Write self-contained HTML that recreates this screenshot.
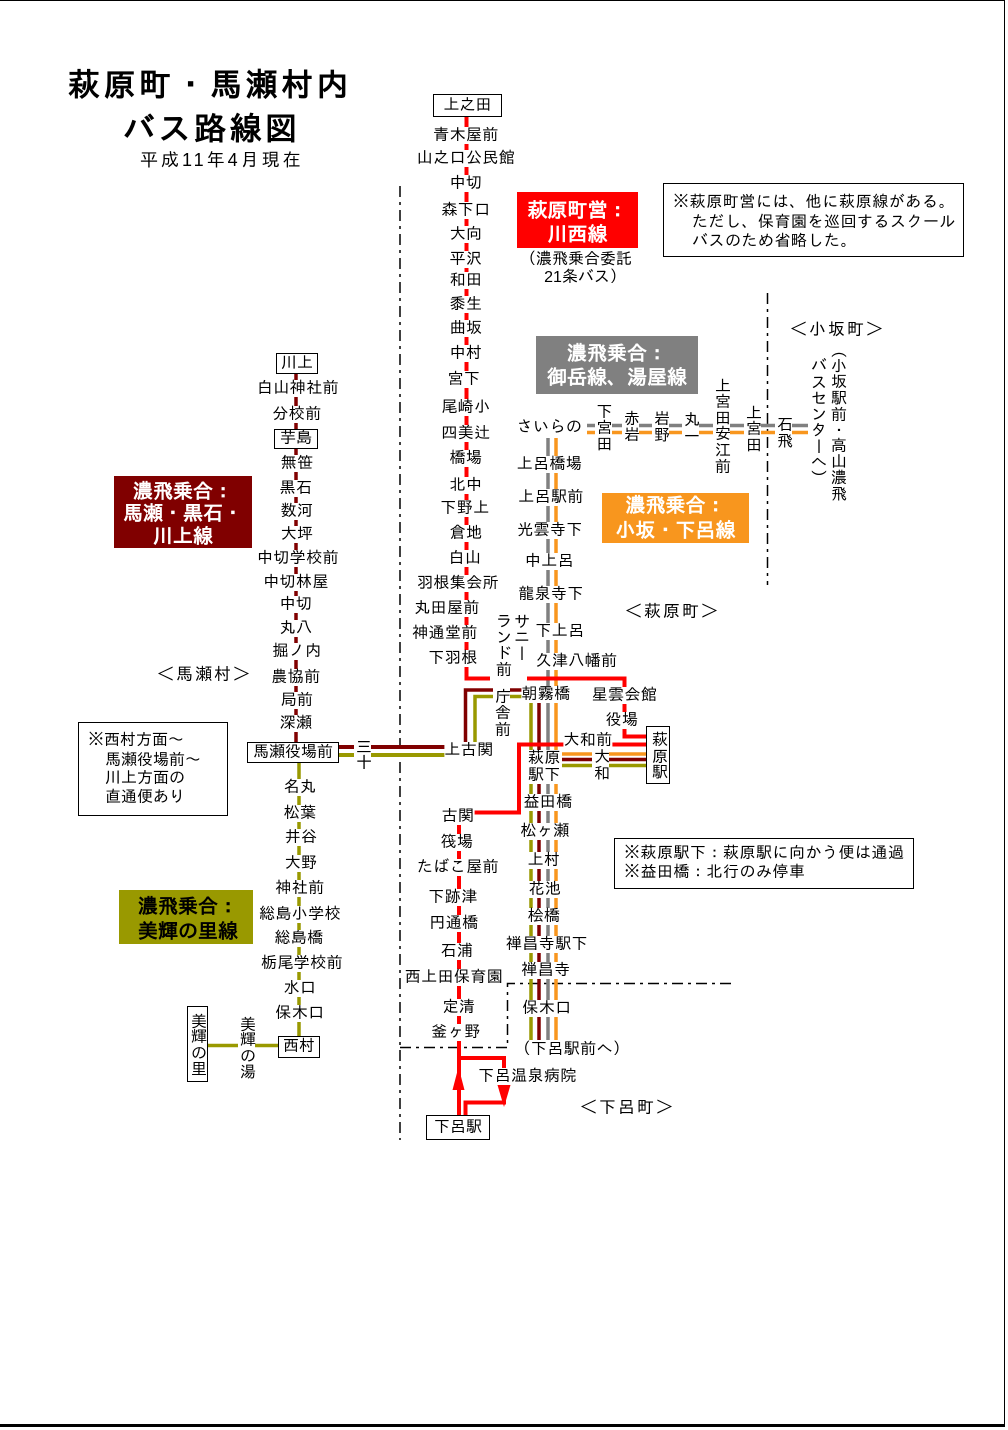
<!DOCTYPE html>
<html lang="ja"><head><meta charset="utf-8"><title>萩原町・馬瀬村内バス路線図</title>
<style>
html,body{margin:0;padding:0;background:#fff;}
body{width:1008px;height:1430px;position:relative;overflow:hidden;font-family:"Liberation Sans","IPAGothic","Noto Sans CJK JP",sans-serif;color:#000;}
svg{position:absolute;left:0;top:0;}
.s{position:absolute;font-size:16px;line-height:17px;height:17px;white-space:nowrap;background:#fff;transform:translateX(-50%);letter-spacing:.4px;}
.t{position:absolute;font-size:16px;line-height:17px;white-space:nowrap;}
.tc{position:absolute;font-size:16px;line-height:17px;white-space:nowrap;transform:translateX(-50%);}
.v{position:absolute;font-size:16px;line-height:17px;width:17px;writing-mode:vertical-rl;background:#fff;white-space:nowrap;}
.b{position:absolute;border:1px solid #000;background:#fff;box-sizing:border-box;font-size:16px;text-align:center;white-space:nowrap;}
.bv{position:absolute;border:1px solid #000;background:#fff;box-sizing:border-box;font-size:16px;text-align:center;white-space:nowrap;writing-mode:vertical-rl;}
.c{position:absolute;box-sizing:border-box;text-align:center;font-weight:bold;font-size:20px;white-space:nowrap;color:#fff;}
.n{position:absolute;border:1px solid #000;box-sizing:border-box;}
.m{position:absolute;font-size:17px;line-height:19px;letter-spacing:2px;white-space:nowrap;transform:translateX(-50%);}
</style></head><body>

<svg width="1008" height="1430" viewBox="0 0 1008 1430">
  <!-- page border -->
  <rect x="0" y="0" width="1005" height="1" fill="#000"/>
  <rect x="1004" y="0" width="1" height="1427" fill="#000"/>
  <rect x="0" y="1424" width="1005" height="3" fill="#000"/>

  <!-- municipal borders (dash-dot) -->
  <g stroke="#000" stroke-width="1.5" fill="none" stroke-dasharray="11 5 3 5">
    <path d="M400 186V1140"/>
    <path d="M767.5 293V585"/>
    <path d="M400 1047.5H507.5V983.5H735"/>
  </g>

  <g fill="none" stroke-linejoin="miter">
    <!-- gray / orange (御岳・湯屋 / 小坂・下呂) -->
    <path d="M587 425.5H808" stroke="#808080" stroke-width="3.5"/>
    <path d="M587 432.5H808" stroke="#f8961e" stroke-width="3.5"/>
    <path d="M548 1040V438" stroke="#808080" stroke-width="3.5"/>
    <path d="M556 1040V438" stroke="#f8961e" stroke-width="3.5"/>
    <!-- brown (馬瀬・黒石・川上) -->
    <path d="M296 374V742" stroke="#800000" stroke-width="3.5"/>
    <path d="M339 747H445" stroke="#800000" stroke-width="4"/>
    <path d="M465.5 742V690H539V1040" stroke="#800000" stroke-width="3.5"/>
    <path d="M562 759.5H646" stroke="#800000" stroke-width="3.5"/>
    <!-- olive (美輝の里) -->
    <path d="M299 763V1036" stroke="#999900" stroke-width="3.5"/>
    <path d="M339 755H445" stroke="#999900" stroke-width="4"/>
    <path d="M475 742V696.5H531V1040" stroke="#999900" stroke-width="3.5"/>
    <path d="M562 765.5H646" stroke="#999900" stroke-width="3.5"/>
    <path d="M278 1045.5H208" stroke="#999900" stroke-width="3.5"/>
    <!-- orange to 萩原駅 -->
    <path d="M562 754H646" stroke="#f8961e" stroke-width="3.5"/>
    <!-- red (川西線) -->
    <path d="M466.5 117V678.5H624.5V736.5H647" stroke="#ff0000" stroke-width="4"/>
    <path d="M647 744.5H519V812.5H459V1115" stroke="#ff0000" stroke-width="4"/>
    <path d="M459 1058H504V1070" stroke="#ff0000" stroke-width="4"/>
    <path d="M504 1082V1092" stroke="#ff0000" stroke-width="4"/>
    <path d="M465.5 1115V1102.5H506" stroke="#ff0000" stroke-width="4"/>
  </g>
  <polygon points="458.5,1067 452.5,1090 464.5,1090" fill="#ff0000"/>
  <polygon points="497.5,1085 510.5,1085 504,1107" fill="#ff0000"/>
  <!-- gap under サニーランド前 -->
  <rect x="490" y="675" width="37" height="8" fill="#fff"/>
</svg>

<!-- Title -->
<div style="position:absolute;left:68px;top:67px;font-size:32px;line-height:36px;font-weight:bold;letter-spacing:3.5px;white-space:nowrap">萩原町・馬瀬村内</div>
<div style="position:absolute;left:123px;top:110.5px;font-size:32px;line-height:36px;font-weight:bold;letter-spacing:3.5px;white-space:nowrap">バス路線図</div>
<div style="position:absolute;left:140px;top:150px;font-size:18px;line-height:20px;letter-spacing:3px;white-space:nowrap">平成11年4月現在</div>

<!-- Central red column -->
<div class="b" style="left:433px;top:94px;width:69px;height:23px;line-height:21px">上之田</div>
<div class="s" style="left:466px;top:126.5px">青木屋前</div>
<div class="s" style="left:466px;top:149.5px">山之口公民館</div>
<div class="s" style="left:466px;top:174.5px">中切</div>
<div class="s" style="left:466px;top:201.5px">森下口</div>
<div class="s" style="left:466px;top:225.5px">大向</div>
<div class="s" style="left:466px;top:250.5px">平沢</div>
<div class="s" style="left:466px;top:271.5px">和田</div>
<div class="s" style="left:466px;top:295.5px">黍生</div>
<div class="s" style="left:466px;top:319.5px">曲坂</div>
<div class="s" style="left:466px;top:344.5px">中村</div>
<div class="s" style="left:464px;top:370.5px">宮下</div>
<div class="s" style="left:466px;top:398.5px">尾崎小</div>
<div class="s" style="left:466px;top:424.5px">四美辻</div>
<div class="s" style="left:466px;top:449.5px">橋場</div>
<div class="s" style="left:466px;top:476.5px">北中</div>
<div class="s" style="left:465px;top:499.5px">下野上</div>
<div class="s" style="left:466px;top:524.5px">倉地</div>
<div class="s" style="left:465px;top:549.5px">白山</div>
<div class="s" style="left:458px;top:574.5px">羽根集会所</div>
<div class="s" style="left:447px;top:599.5px">丸田屋前</div>
<div class="s" style="left:445px;top:624.5px">神通堂前</div>
<div class="s" style="left:453px;top:649.5px">下羽根</div>

<!-- Red box -->
<div class="c" style="left:517px;top:192px;width:121px;height:56px;background:#ff0000;padding-top:7px;line-height:24px">萩原町営：<br>川西線</div>
<div class="tc" style="left:576px;top:250.5px">（濃飛乗合委託</div>
<div class="tc" style="left:585px;top:268.5px">21条バス）</div>

<!-- Note 1 -->
<div class="n" style="left:663px;top:183px;width:301px;height:74px"></div>
<div class="t" style="left:673px;top:193.5px;letter-spacing:.6px">※萩原町営には、他に萩原線がある。</div>
<div class="t" style="left:692px;top:213.5px;letter-spacing:.5px">ただし、保育園を巡回するスクール</div>
<div class="t" style="left:692px;top:232.5px;letter-spacing:.5px">バスのため省略した。</div>

<!-- Gray box -->
<div class="c" style="left:536px;top:336px;width:162px;height:58px;background:#808080;padding-top:6px;line-height:24px">濃飛乗合：<br>御岳線、湯屋線</div>

<!-- Orange box -->
<div class="c" style="left:602px;top:493px;width:147px;height:50px;background:#f8961e;padding-top:1px;line-height:25px">濃飛乗合：<br>小坂・下呂線</div>

<!-- Area labels -->
<div class="m" style="left:837.5px;top:319.5px">＜小坂町＞</div>
<div class="m" style="left:672.5px;top:601.5px">＜萩原町＞</div>
<div class="m" style="left:204.5px;top:664.5px">＜馬瀬村＞</div>
<div class="m" style="left:627.5px;top:1097.5px">＜下呂町＞</div>

<!-- Top horizontal line labels -->
<div class="s" style="left:549.5px;top:418.5px">さいらの</div>
<div class="v" style="left:594.5px;top:403px">下宮田</div>
<div class="v" style="left:622px;top:410px">赤岩</div>
<div class="v" style="left:652px;top:410px">岩野</div>
<div class="v" style="left:682px;top:411px">丸一</div>
<div class="v" style="left:713px;top:377px">上宮田安江前</div>
<div class="v" style="left:744px;top:404px">上宮田</div>
<div class="v" style="left:775px;top:416px">石飛</div>
<div class="v" style="left:829px;top:341px">（小坂駅前・高山濃飛</div>
<div class="v" style="left:809px;top:357px">バスセンターへ）</div>

<!-- Gray/orange column -->
<div class="s" style="left:549.5px;top:455.5px">上呂橋場</div>
<div class="s" style="left:551px;top:488.5px">上呂駅前</div>
<div class="s" style="left:550px;top:521.5px">光雲寺下</div>
<div class="s" style="left:549.5px;top:552.5px">中上呂</div>
<div class="s" style="left:551px;top:585.5px">龍泉寺下</div>
<div class="s" style="left:560px;top:622.5px">下上呂</div>
<div class="s" style="left:576.5px;top:652.5px">久津八幡前</div>
<div class="v" style="left:512px;top:612px">サニー</div>
<div class="v" style="left:494px;top:612px">ランド前</div>

<!-- Junction area -->
<div class="s" style="left:546px;top:685.5px">朝霧橋</div>
<div class="s" style="left:624.5px;top:686.5px">星雲会館</div>
<div class="s" style="left:622px;top:711.5px">役場</div>
<div class="s" style="left:588px;top:731.5px">大和前</div>
<div class="v" style="left:493px;top:688px">庁舎前</div>
<div class="s" style="left:469px;top:741.5px">上古関</div>
<div class="v" style="left:354px;top:738px">三十</div>
<div style="position:absolute;left:528px;top:750px;width:33px;font-size:16px;line-height:17px;background:#fff;white-space:nowrap;letter-spacing:.4px">萩原<br>駅下</div>
<div class="v" style="left:592px;top:748px">大和</div>
<div class="bv" style="left:646px;top:726px;width:24px;height:58px;line-height:22px">萩原駅</div>

<!-- Lower bundle -->
<div class="s" style="left:548px;top:793.5px">益田橋</div>
<div class="s" style="left:545px;top:822.5px">松ヶ瀬</div>
<div class="s" style="left:544px;top:851.5px">上村</div>
<div class="s" style="left:545px;top:880.5px">花池</div>
<div class="s" style="left:544px;top:907.5px">桧橋</div>
<div class="s" style="left:547px;top:935.5px">禅昌寺駅下</div>
<div class="s" style="left:546px;top:961.5px">禅昌寺</div>
<div class="s" style="left:547px;top:999.5px">保木口</div>
<div class="s" style="left:572px;top:1040.5px">（下呂駅前へ）</div>

<!-- Note 3 -->
<div class="n" style="left:614px;top:838px;width:300px;height:51px"></div>
<div class="t" style="left:624px;top:844.5px;letter-spacing:.5px">※萩原駅下：萩原駅に向かう便は通過</div>
<div class="t" style="left:624px;top:863.5px;letter-spacing:.5px">※益田橋：北行のみ停車</div>

<!-- Lower red column -->
<div class="s" style="left:458px;top:807.5px">古関</div>
<div class="s" style="left:457px;top:833.5px">筏場</div>
<div class="s" style="left:458px;top:858.5px">たばこ屋前</div>
<div class="s" style="left:453px;top:888.5px">下跡津</div>
<div class="s" style="left:454px;top:914.5px">円通橋</div>
<div class="s" style="left:457px;top:942.5px">石浦</div>
<div class="s" style="left:454px;top:968.5px">西上田保育園</div>
<div class="s" style="left:459px;top:998.5px">定清</div>
<div class="s" style="left:456px;top:1023.5px">釜ヶ野</div>
<div class="s" style="left:527.5px;top:1067.5px">下呂温泉病院</div>
<div class="b" style="left:426px;top:1115px;width:64px;height:25px;line-height:23px">下呂駅</div>

<!-- Left brown column -->
<div class="b" style="left:276px;top:353px;width:42px;height:21px;line-height:19px">川上</div>
<div class="s" style="left:298px;top:379.5px">白山神社前</div>
<div class="s" style="left:297px;top:405.5px">分校前</div>
<div class="b" style="left:274px;top:429px;width:44px;height:20px;line-height:18px">芋島</div>
<div class="s" style="left:297px;top:454.5px">無笹</div>
<div class="s" style="left:296px;top:479.5px">黒石</div>
<div class="s" style="left:297px;top:502.5px">数河</div>
<div class="s" style="left:297px;top:525.5px">大坪</div>
<div class="s" style="left:298px;top:549.5px">中切学校前</div>
<div class="s" style="left:296px;top:573.5px">中切林屋</div>
<div class="s" style="left:296px;top:595.5px">中切</div>
<div class="s" style="left:296px;top:619.5px">丸八</div>
<div class="s" style="left:297px;top:642.5px">掘ノ内</div>
<div class="s" style="left:296px;top:668.5px">農協前</div>
<div class="s" style="left:297px;top:691.5px">局前</div>
<div class="s" style="left:296px;top:714.5px">深瀬</div>
<div class="b" style="left:247px;top:742px;width:92px;height:21px;line-height:19px">馬瀬役場前</div>

<!-- Brown box -->
<div class="c" style="left:114px;top:476px;width:138px;height:72px;background:#800000;padding-top:4.75px;line-height:22.5px">濃飛乗合：<br>馬瀬・黒石・<br>川上線</div>

<!-- Note 2 -->
<div class="n" style="left:78px;top:722px;width:150px;height:94px"></div>
<div class="t" style="left:88px;top:731.5px">※西村方面～</div>
<div class="t" style="left:105px;top:751.5px">馬瀬役場前～</div>
<div class="t" style="left:105px;top:769.5px">川上方面の</div>
<div class="t" style="left:105px;top:788.5px">直通便あり</div>

<!-- Olive column -->
<div class="s" style="left:300px;top:778.5px">名丸</div>
<div class="s" style="left:300px;top:804.5px">松葉</div>
<div class="s" style="left:301px;top:828.5px">井谷</div>
<div class="s" style="left:301px;top:854.5px">大野</div>
<div class="s" style="left:300px;top:879.5px">神社前</div>
<div class="s" style="left:300px;top:905.5px">総島小学校</div>
<div class="s" style="left:299px;top:929.5px">総島橋</div>
<div class="s" style="left:302px;top:954.5px">栃尾学校前</div>
<div class="s" style="left:300px;top:979.5px">水口</div>
<div class="s" style="left:300px;top:1004.5px">保木口</div>
<div class="b" style="left:278px;top:1036px;width:42px;height:22px;line-height:20px">西村</div>
<div class="v" style="left:238px;top:1015px">美輝の湯</div>
<div class="bv" style="left:187px;top:1006px;width:21px;height:76px;line-height:19px">美輝の里</div>

<!-- Olive box -->
<div class="c" style="left:119px;top:890px;width:134px;height:54px;background:#999900;color:#000;padding-top:4.5px;padding-left:4px;line-height:25px">濃飛乗合：<br>美輝の里線</div>

</body></html>
